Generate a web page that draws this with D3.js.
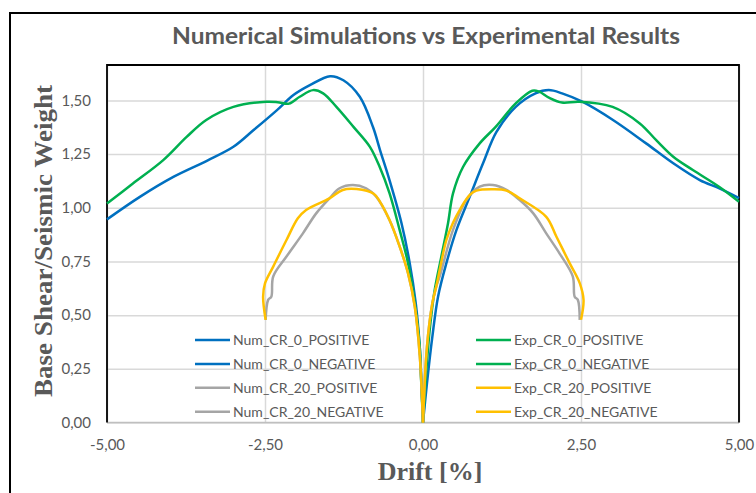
<!DOCTYPE html>
<html><head><meta charset="utf-8">
<script src="https://cdn.jsdelivr.net/npm/d3@7"></script>
<style>body{margin:0;background:#fff}svg{display:block}</style>
</head><body>
<svg id="c" width="756" height="493"></svg>
<script>
const title = "Numerical Simulations vs Experimental Results";
const xTicks = [-5, -2.5, 0, 2.5, 5];
const yTicks = [0, 0.25, 0.5, 0.75, 1.0, 1.25, 1.5];

const numCR0Pos = [[0,0],[0.063,0.183],[0.148,0.4],[0.238,0.586],[0.37,0.742],[0.53,0.897],[0.74,1.052],[0.95,1.207],[1.16,1.352],[1.467,1.47],[1.78,1.533],[1.99,1.548],[2.2,1.533],[2.52,1.494],[3.0,1.41],[3.53,1.30],[3.96,1.207],[4.38,1.129],[4.69,1.09],[5.0,1.045]];
const numCR0Neg = [[0,0],[-0.02,0.15],[-0.052,0.354],[-0.115,0.556],[-0.21,0.742],[-0.34,0.928],[-0.53,1.129],[-0.68,1.269],[-0.79,1.375],[-1.0,1.517],[-1.26,1.594],[-1.47,1.613],[-1.79,1.571],[-2.05,1.525],[-2.31,1.455],[-2.68,1.362],[-3.0,1.284],[-3.42,1.219],[-3.95,1.144],[-4.48,1.051],[-5.0,0.946]];
const numCR20Pos = [[0,0],[0.063,0.354],[0.148,0.556],[0.21,0.633],[0.264,0.68],[0.475,0.897],[0.687,1.036],[0.897,1.098],[1.108,1.106],[1.32,1.083],[1.53,1.036],[1.745,0.974],[1.95,0.881],[2.16,0.788],[2.37,0.68],[2.4,0.586],[2.45,0.571],[2.48,0.478]];
const numCR20Neg = [[0,0],[-0.05,0.307],[-0.13,0.54],[-0.237,0.695],[-0.37,0.82],[-0.53,0.943],[-0.74,1.052],[-0.9,1.091],[-1.11,1.106],[-1.32,1.091],[-1.48,1.044],[-1.69,0.974],[-1.9,0.881],[-2.16,0.773],[-2.37,0.68],[-2.4,0.586],[-2.45,0.571],[-2.49,0.478]];
const expCR0Pos = [[0,0],[0.043,0.2],[0.106,0.431],[0.185,0.617],[0.29,0.772],[0.396,0.928],[0.475,1.067],[0.633,1.19],[0.897,1.30],[1.15,1.377],[1.467,1.486],[1.73,1.545],[1.83,1.542],[2.0,1.512],[2.2,1.49],[2.47,1.494],[3.0,1.47],[3.43,1.393],[3.69,1.315],[3.96,1.238],[4.27,1.176],[4.69,1.097],[5.0,1.028]];
const expCR0Neg = [[0,0],[-0.03,0.2],[-0.052,0.354],[-0.13,0.557],[-0.237,0.743],[-0.37,0.897],[-0.53,1.068],[-0.685,1.19],[-0.84,1.284],[-1.1,1.377],[-1.37,1.47],[-1.58,1.533],[-1.74,1.548],[-1.95,1.517],[-2.12,1.485],[-2.3,1.492],[-2.48,1.494],[-3.0,1.47],[-3.43,1.409],[-3.74,1.33],[-4.11,1.222],[-4.59,1.113],[-5.0,1.02]];
const expCR20Pos = [[0,0],[0.063,0.354],[0.148,0.556],[0.21,0.633],[0.264,0.71],[0.37,0.85],[0.475,0.93],[0.6,1.0],[0.74,1.06],[0.845,1.08],[1.108,1.086],[1.32,1.08],[1.53,1.044],[1.95,0.958],[2.11,0.866],[2.32,0.742],[2.48,0.649],[2.54,0.571],[2.5,0.478]];
const expCR20Neg = [[0,0],[-0.05,0.307],[-0.13,0.54],[-0.237,0.695],[-0.37,0.82],[-0.53,0.943],[-0.685,1.03],[-0.78,1.065],[-1.05,1.087],[-1.27,1.083],[-1.48,1.044],[-1.85,0.99],[-1.98,0.951],[-2.16,0.85],[-2.37,0.726],[-2.5,0.648],[-2.53,0.586],[-2.49,0.478]];

const seriesNames = ["Num_CR_0_POSITIVE","Num_CR_0_NEGATIVE","Num_CR_20_POSITIVE","Num_CR_20_NEGATIVE","Exp_CR_0_POSITIVE","Exp_CR_0_NEGATIVE","Exp_CR_20_POSITIVE","Exp_CR_20_NEGATIVE"];
const seriesData = [numCR0Pos, numCR0Neg, numCR20Pos, numCR20Neg, expCR0Pos, expCR0Neg, expCR20Pos, expCR20Neg];
const seriesColors = ["#0070C0","#0070C0","#A5A5A5","#A5A5A5","#00B050","#00B050","#FFC000","#FFC000"];

const svg = d3.select("#c");
const L = 107, R = 739, T = 65, B = 422.5;
const x = d3.scaleLinear().domain([-5, 5]).range([L, R]);
const y = d3.scaleLinear().domain([0, 1.665]).range([B, T]);
const txt = "#595959";

// outer frame
svg.append("rect").attr("x", 10).attr("y", 13).attr("width", 800).attr("height", 600)
  .attr("fill", "none").attr("stroke", "#000").attr("stroke-width", 2);

// gridlines
svg.append("g").attr("transform", `translate(0,${B})`)
  .call(d3.axisBottom(x).tickValues(xTicks).tickSize(-(B - T)).tickFormat(""))
  .call(g => { g.select(".domain").remove(); g.selectAll("line").attr("stroke", "#d9d9d9").attr("stroke-width", 1.5); });
svg.append("g").attr("transform", `translate(${L},0)`)
  .call(d3.axisLeft(y).tickValues(yTicks).tickSize(-(R - L)).tickFormat(""))
  .call(g => { g.select(".domain").remove(); g.selectAll("line").attr("stroke", "#d9d9d9").attr("stroke-width", 1.5); });

// plot border
svg.append("line").attr("x1", L).attr("x2", R).attr("y1", B).attr("y2", B).attr("stroke", "#bfbfbf").attr("stroke-width", 1.5);
svg.append("path").attr("d", `M${L},${B}V${T}H${R}V${B}`).attr("fill", "none").attr("stroke", "#000").attr("stroke-width", 1.8);

// tick labels
const fmt = d => d3.format(".2f")(d).replace(".", ",").replace("−", "-");
svg.append("g").attr("transform", `translate(0,${B})`)
  .call(d3.axisBottom(x).tickValues(xTicks).tickSize(0).tickPadding(17).tickFormat(fmt))
  .call(g => { g.select(".domain").remove(); g.selectAll("text").attr("fill", txt).attr("font-family", "Lato").attr("font-size", 15); });
svg.append("g").attr("transform", `translate(${L},0)`)
  .call(d3.axisLeft(y).tickValues(yTicks).tickSize(0).tickPadding(16).tickFormat(fmt))
  .call(g => { g.select(".domain").remove(); g.selectAll("text").attr("fill", txt).attr("font-family", "Lato").attr("font-size", 15); });

// lines
const line = d3.line().x(d => x(d[0])).y(d => y(d[1])).curve(d3.curveCatmullRom.alpha(0.5));
const order = [1, 0, 5, 4, 3, 2, 7, 6];
order.forEach(i => {
  svg.append("path").attr("d", line(seriesData[i])).attr("fill", "none")
    .attr("stroke", seriesColors[i]).attr("stroke-width", 2.5).attr("stroke-linejoin", "round");
});

// legend
seriesNames.forEach((n, i) => {
  const col = Math.floor(i / 4), row = i % 4;
  const lx = col === 0 ? 195 : 476, ly = 340 + row * 23.9;
  svg.append("line").attr("x1", lx).attr("x2", lx + 35).attr("y1", ly).attr("y2", ly)
    .attr("stroke", seriesColors[i]).attr("stroke-width", 2.5);
  svg.append("text").attr("x", lx + 38).attr("y", ly + 5).text(n)
    .attr("fill", txt).attr("font-family", "Lato").attr("font-size", 14);
});

// titles
svg.append("text").attr("x", 426).attr("y", 44).attr("text-anchor", "middle").text(title)
  .attr("fill", txt).attr("font-family", "Lato").attr("font-weight", "bold").attr("font-size", 22)
  .attr("textLength", 508).attr("lengthAdjust", "spacingAndGlyphs");
svg.append("text").attr("x", 430).attr("y", 480).attr("text-anchor", "middle").text("Drift [%]")
  .attr("fill", txt).attr("font-family", "Liberation Serif").attr("font-weight", "bold").attr("font-size", 26);
svg.append("text").attr("transform", "translate(52,241) rotate(-90)").attr("text-anchor", "middle")
  .text("Base Shear/Seismic Weight")
  .attr("fill", txt).attr("font-family", "Liberation Serif").attr("font-weight", "bold").attr("font-size", 26)
  .attr("textLength", 312).attr("lengthAdjust", "spacingAndGlyphs");
</script>
</body></html>
